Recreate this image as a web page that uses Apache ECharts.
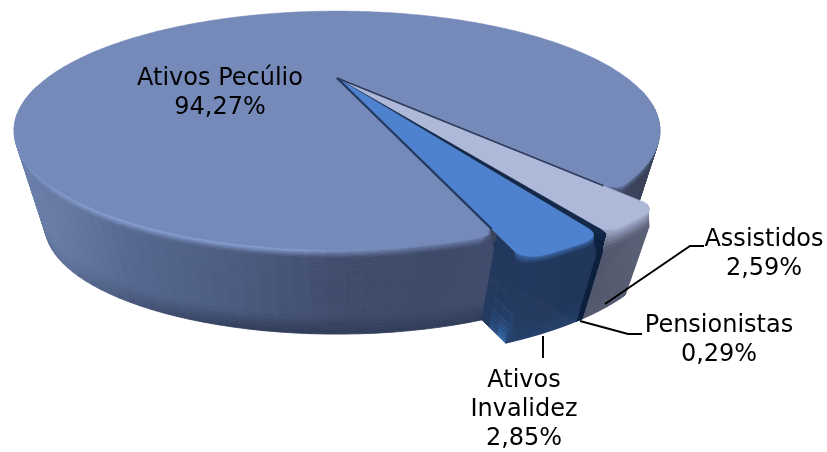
<!DOCTYPE html>
<html><head><meta charset="utf-8">
<style>html,body{margin:0;padding:0;background:#fff}#c{width:827px;height:452px}</style>
<script src="https://cdn.jsdelivr.net/npm/echarts@6/dist/echarts.min.js"></script>
</head><body><div id="c"></div>
<script>
const categories = ['Ativos Pecúlio', 'Assistidos', 'Pensionistas', 'Ativos Invalidez'];
const values = [94.27, 2.59, 0.29, 2.85];
const labelLines = [['Ativos Pecúlio'], ['Assistidos'], ['Pensionistas'], ['Ativos', 'Invalidez']];

const START = 71.2;            // degrees where the first slice begins
const C = {cx:337, cy:78, rx:290, ry:96.4, k:0.44, vx:337, vy:1125, depth:0.096};
const RADIUS = [1, 1.09, 1.09, 1.09];
const LABEL_POS = [[220,79],[764,240],[719,326],[524,381]];
const LEADERS = [null, [[605,304],[690,246],[704,246]], [[580,321],[628,334],[642,334]], [[543,336],[543,358]]];
const FONT = 'DejaVu Sans';
const FS = 24, LH = 29;

function proj(u, v, t){
  const w = 1 - C.k*v;
  let x = C.cx + C.rx*u/w, y = C.cy + C.ry*v/w;
  const d = t*C.depth;
  x += d*(C.vx-x); y += d*(C.vy-y);
  return [x,y];
}
const rad = d => d*Math.PI/180;
function hex(c){return [parseInt(c.slice(1,3),16),parseInt(c.slice(3,5),16),parseInt(c.slice(5,7),16)];}
function mix(a,b,f){return [a[0]+(b[0]-a[0])*f,a[1]+(b[1]-a[1])*f,a[2]+(b[2]-a[2])*f];}
function css(c){return 'rgb('+c.map(Math.round).join(',')+')';}
function ramp(stops,x){
  if(x<=stops[0][0])return hex(stops[0][1]);
  for(let i=1;i<stops.length;i++) if(x<=stops[i][0]){
    return mix(hex(stops[i-1][1]),hex(stops[i][1]),(x-stops[i-1][0])/(stops[i][0]-stops[i-1][0]));
  }
  return hex(stops[stops.length-1][1]);
}
const STYLE = [
  {top:'#768ABA', bottom:'#2F3B58', cut:'#3A4258', bw:.1,
   bevel:[[14,'#8399C8'],[120,'#90A9DE'],[300,'#8FA8DE'],[400,'#7285B2'],[560,'#6C7FAE'],[660,'#5E6E9A']],
   wall:[[14,'#6E82AE'],[60,'#667AA3'],[130,'#566890'],[230,'#4C5C80'],[340,'#3F4C6C'],[430,'#3E4A68'],[500,'#424D6E'],[600,'#3E4660'],[660,'#3A4258']]},
  {top:'#AEB9D9', bottom:'#565C72', cut:'#4A5068', bw:.22,
   bevel:[[0,'#A6B1D2'],[800,'#A6B1D2']],
   wall:[[580,'#4E5468'],[620,'#565B70'],[660,'#5C6278']]},
  {top:'#142848', bottom:'#0E2240', cut:'#0E2240', bw:.1,
   bevel:[[0,'#142848'],[800,'#142848']],
   wall:[[0,'#0E2240'],[800,'#0E2240']]},
  {top:'#4F82CE', bottom:'#24406A', cut:'#23395E', bw:.09,
   bevel:[[0,'#3F6CAC'],[800,'#3F6CAC']],
   wall:[[506,'#2A4F84'],[516,'#23395E'],[600,'#22385C']]}
];
const LEVELS = [0,.02,.04,.06,.08,.1,.13,.17,.22,.35,.5,.65,.78,.84,.88,.92,.95,.98,1];

function poly(points, fill, z){
  return {type:'polygon', shape:{points}, style:{fill, stroke:fill, lineWidth:0.8}, z2:z, silent:true};
}
function wallColor(i, x, h){
  const s = STYLE[i];
  let c = ramp(s.wall, x);
  if(h<s.bw){
    c = mix(c, ramp(s.bevel,x), Math.pow(1-h/s.bw,1.2));
  }
  if(h>.78){
    const w = Math.min(1, Math.max(.15, (x-40)/220));
    c = mix(c, hex(s.bottom), w*(h-.78)/.22);
  }
  return c;
}
function renderItem(params, api){
  const i = params.dataIndex;
  let a0 = START;
  for(let j=0;j<i;j++) a0 += values[j]*3.6;
  const a1 = a0 + api.value(0)*3.6;
  const R = RADIUS[i];
  const ptAt = (ang, r, t) => proj(r*Math.cos(rad(ang)), r*Math.sin(rad(ang)), t);
  const kids = [];
  const n = Math.ceil((a1-a0) > 30 ? (a1-a0)/2 : 40);
  const s = STYLE[i];
  const delta = i===0 ? 2.2 : Math.min((a1-a0)/2.5, 2.5), drop = .03;
  // radius softened at the outer corners near the top of the slice
  const rAt = (ang, h) => {
    const d = Math.min(ang-a0, a1-ang);
    let r = R;
    if(d<delta && h<.2){
      const f = 1-d/delta;
      r = R - drop*(1-Math.sqrt(Math.max(0,1-f*f)))*(1-h/.2);
    }
    return r;
  };

  // cut faces: the inner part sits behind the large slice, the outer part in front of it
  const cutFace = (ang, bright) => {
    const rs = [0,.2,.4,.6,.7,.8,.86,.92,.96,1,1.03,1.06,R];
    for(let a=0;a<rs.length-1;a++){
      if(rs[a]>=R) break;
      const z = i===0 ? 1 : (rs[a]<1 ? 0 : 2);
      for(let b=0;b<LEVELS.length-1;b++){
        const p1=ptAt(ang,rs[a],LEVELS[b]), p2=ptAt(ang,rs[a+1],LEVELS[b]),
              p3=ptAt(ang,rs[a+1],LEVELS[b+1]), p4=ptAt(ang,rs[a],LEVELS[b+1]);
        let c = hex(s.cut);
        if(bright){
          const f = Math.max(0,(rs[a]-1)/.06)*Math.pow(LEVELS[b],5);
          c = mix(c, hex('#3168AC'), Math.min(1,f));
        }
        kids.push(poly([p1,p2,p3,p4], css(c), z));
      }
    }
  };
  cutFace(a1, i===3);

  // outer wall: back segments first, front segments last
  const segs = [];
  for(let q=0;q<n;q++){
    const t0=a0+(a1-a0)*q/n, t1=a0+(a1-a0)*(q+1)/n;
    const sn = Math.sin(rad((t0+t1)/2));
    if(sn > .1) segs.push({t0,t1,sn});
  }
  segs.sort((p,q)=>p.sn-q.sn);
  const wz = i===0 ? 1 : 3+i;
  segs.forEach(sg=>{
    for(let b=0;b<LEVELS.length-1;b++){
      const h0=LEVELS[b], h1=LEVELS[b+1];
      const p1=ptAt(sg.t0,rAt(sg.t0,h0),h0), p2=ptAt(sg.t1,rAt(sg.t1,h0),h0),
            p3=ptAt(sg.t1,rAt(sg.t1,h1),h1), p4=ptAt(sg.t0,rAt(sg.t0,h1),h1);
      kids.push(poly([p1,p2,p3,p4], css(wallColor(i,(p1[0]+p2[0])/2,(h0+h1)/2)), wz));
    }
  });

  // top face
  const top = [ptAt(a0,0,0)];
  const m = Math.max(n*2, 30);
  for(let q=0;q<=m;q++){
    const t=a0+(a1-a0)*q/m;
    top.push(ptAt(t,rAt(t,0),0));
  }
  const tz = i===0 ? 3 : 8+i;
  kids.push({type:'polygon', z2:tz, shape:{points:top}, style:{fill:s.top, stroke:s.top, lineWidth:0.5, lineJoin:'round'}, silent:true});

  // thin dark edges running in from the centre
  if(i===1) kids.push({type:'polyline', z2:13, silent:true, shape:{points:[ptAt(a0,0,0),ptAt(a0,.97,0)]}, style:{stroke:'#2E3A5A', lineWidth:1.8, fill:null}});
  if(i===3) kids.push({type:'polyline', z2:13, silent:true, shape:{points:[ptAt(a1,0,0),ptAt(a1,.98,0)]}, style:{stroke:'#23395E', lineWidth:2.2, fill:null}});

  // label
  const lines = labelLines[i].concat([api.value(0).toFixed(2).replace('.',',')+'%']);
  lines.forEach((tx,li)=>{
    kids.push({type:'text', z2:100, silent:true, style:{text:tx, x:LABEL_POS[i][0], y:LABEL_POS[i][1]+li*LH,
      fill:'#000', font:FS+'px "'+FONT+'"', textAlign:'center', textVerticalAlign:'middle'}});
  });
  // leader
  if(LEADERS[i]) kids.push({type:'polyline', z2:90, silent:true, shape:{points:LEADERS[i]}, style:{stroke:'#000', lineWidth:2, fill:null}});
  return {type:'group', children:kids};
}
const chart = echarts.init(document.getElementById('c'), null, {renderer:'canvas'});
chart.setOption({
  animation:false,
  backgroundColor:'#fff',
  series:[{type:'custom', coordinateSystem:'none', renderItem, silent:true,
    data:categories.map((name,i)=>({name, value:[values[i]]}))}]
});
</script></body></html>
